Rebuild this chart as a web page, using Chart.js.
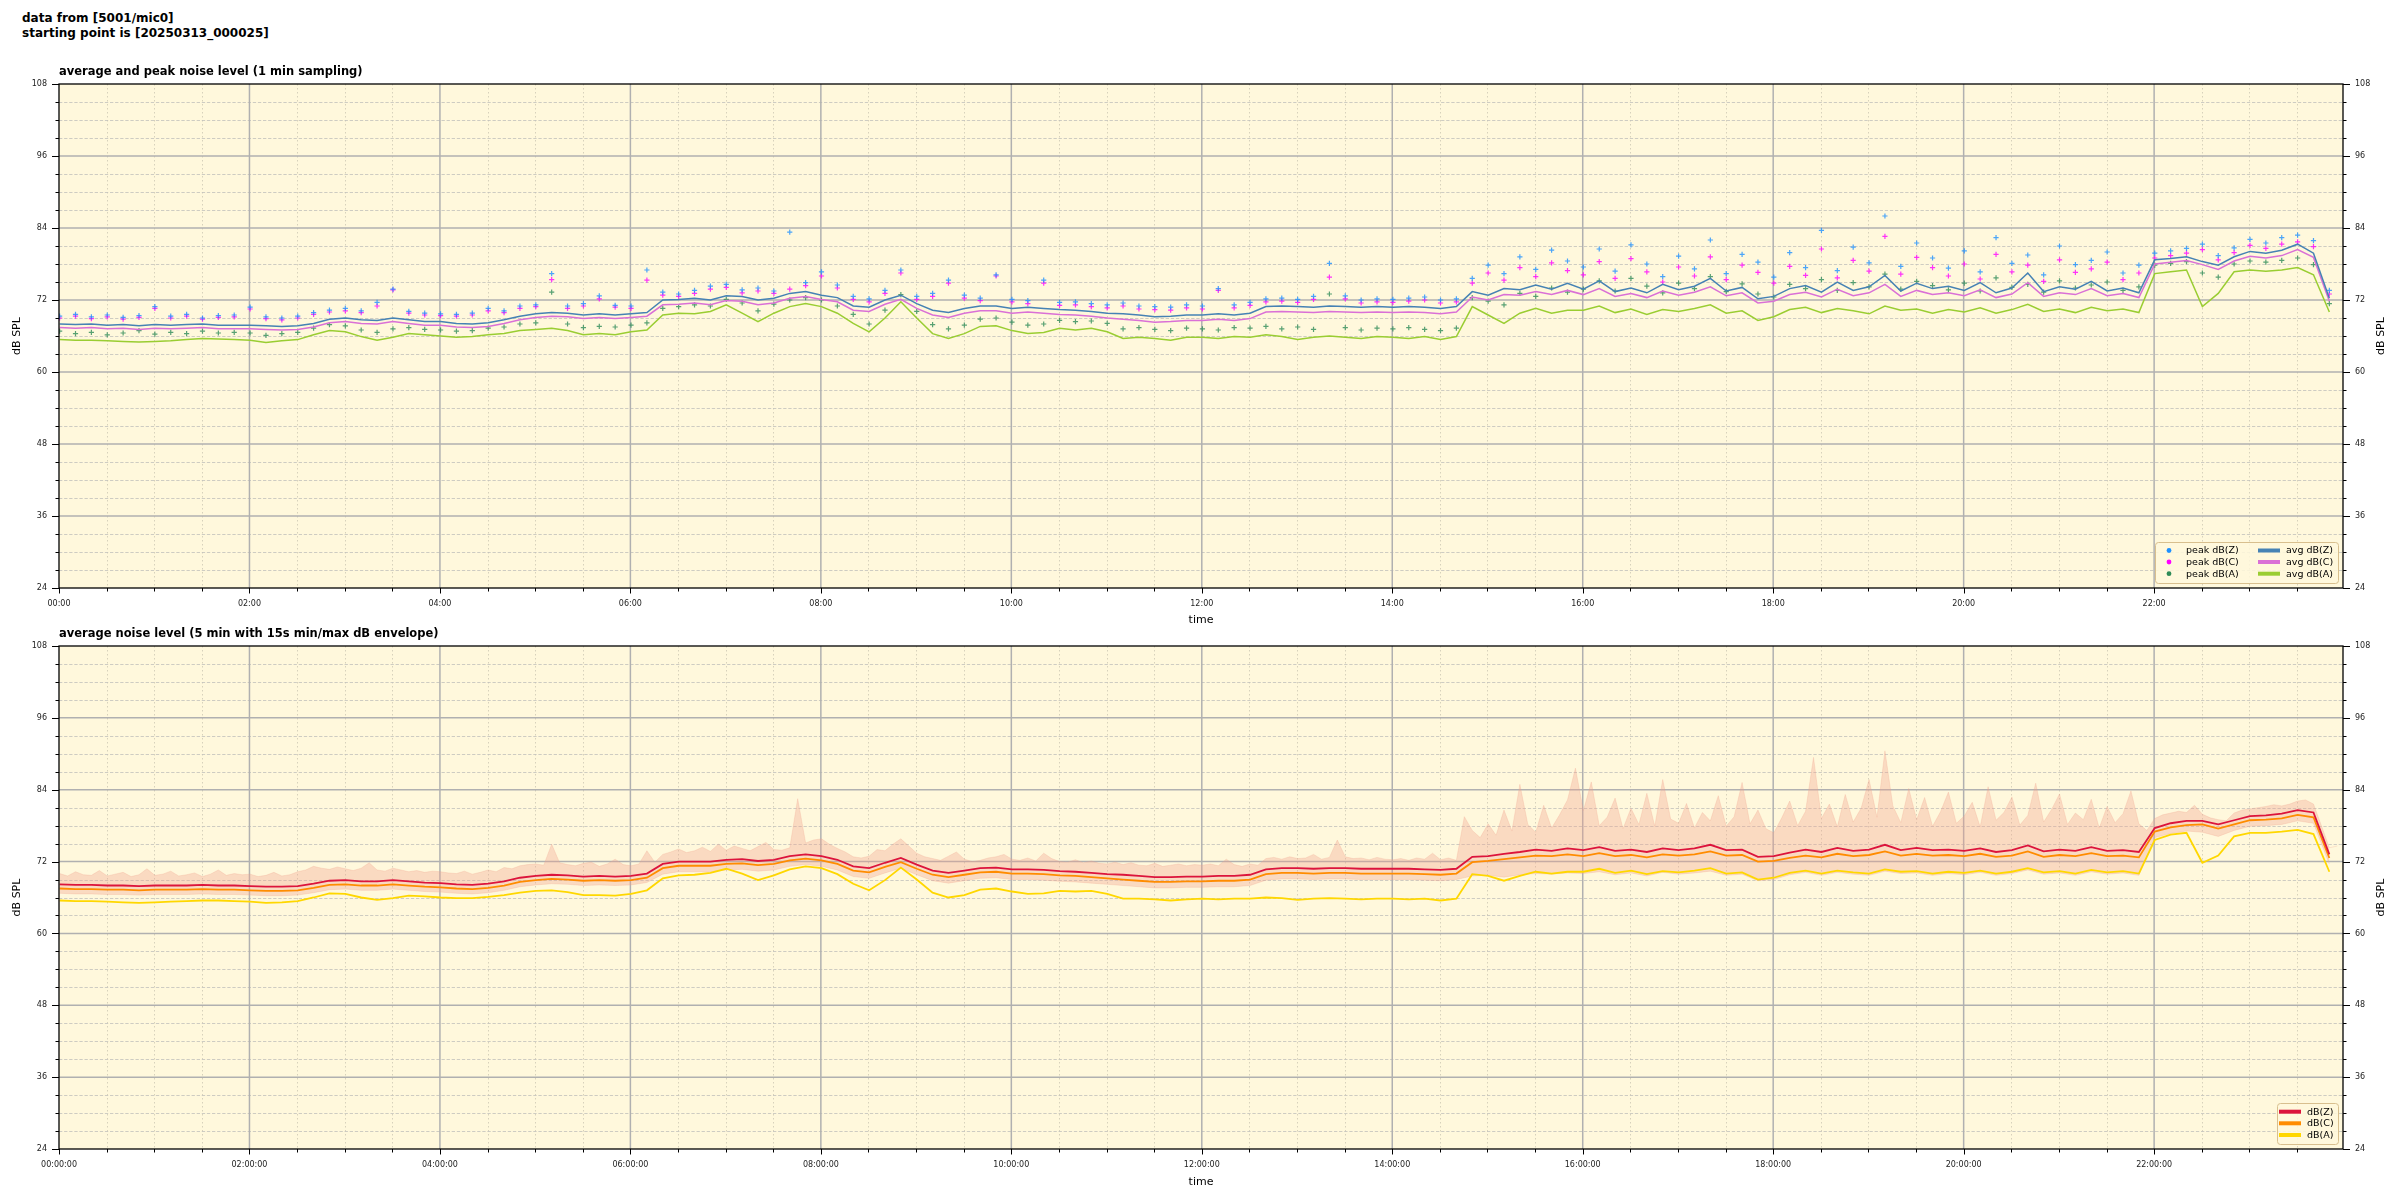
<!DOCTYPE html>
<html>
<head>
<meta charset="utf-8">
<script src="https://cdn.jsdelivr.net/npm/chart.js@4.4.1/dist/chart.umd.min.js"></script>
<style>
  body { margin: 0; width: 2400px; height: 1200px; background: #fff; overflow: hidden; }
  .box { position: absolute; left: 0; width: 2400px; }
  #head { position: absolute; left: 22px; top: 11px; font: bold 12px "DejaVu Sans"; line-height: 14.5px; color: #000; }
</style>
</head>
<body>
<div id="head">data from [5001/mic0]<br>starting point is [20250313_000025]</div>
<div class="box" style="top:0;height:632px"><canvas id="topChart"></canvas></div>
<div class="box" style="top:600px;height:600px"><canvas id="bottomChart"></canvas></div>
<script>
// sample times, minutes after midnight (first sample 00:00:25)
const times = Array.from({ length: 144 }, (_, i) => i * 10 + 0.4);
const times5 = Array.from({ length: 288 }, (_, i) => i * 5 + 0.4);

const xTicks = [0, 120, 240, 360, 480, 600, 720, 840, 960, 1080, 1200, 1320];
const yTicks = [24, 36, 48, 60, 72, 84, 96, 108];

// ---- top panel: 1 min sampling (read every 10 min) ----
const avgZ = [
  68.0, 67.9, 68.0, 67.8, 67.9, 67.7, 67.9, 67.8, 67.9, 68.0, 67.8, 67.8,
  67.8, 67.7, 67.6, 67.7, 68.1, 68.8, 69.0, 68.7, 68.6, 69.0, 68.7, 68.4,
  68.4, 68.1, 68.0, 68.2, 68.7, 69.3, 69.7, 69.9, 69.8, 69.5, 69.7, 69.5,
  69.7, 69.9, 72.0, 72.1, 72.3, 72.0, 72.7, 72.6, 72.0, 72.3, 73.1, 73.4,
  72.8, 72.4, 71.0, 70.8, 72.0, 72.8, 71.4, 70.3, 69.9, 70.6, 71.0, 71.0,
  70.6, 70.8, 70.6, 70.4, 70.3, 70.1, 69.8, 69.7, 69.5, 69.2, 69.3, 69.5,
  69.5, 69.7, 69.5, 69.8, 70.9, 71.0, 70.9, 70.8, 71.0, 70.9, 70.8, 70.9,
  70.8, 70.9, 70.8, 70.6, 70.9, 73.4, 72.8, 73.9, 73.7, 74.5, 73.8, 74.8,
  73.8, 75.2, 73.4, 74.0, 73.2, 74.6, 73.7, 74.3, 75.6, 73.5, 74.1, 72.2,
  72.6, 73.9, 74.4, 73.3, 75.0, 73.6, 74.2, 76.1, 73.5, 74.8, 73.9, 74.3,
  73.6, 74.9, 73.2, 74.0, 76.5, 73.4, 74.2, 73.8, 75.1, 73.5, 74.0, 73.2,
  78.7, 78.9, 79.2, 78.4, 77.8, 79.2, 80.1, 79.8, 80.3, 81.3, 79.8, 72.3
];
const avgC = [
  67.4, 67.3, 67.4, 67.2, 67.3, 67.1, 67.3, 67.2, 67.3, 67.4, 67.2, 67.2,
  67.2, 67.1, 67.0, 67.1, 67.5, 68.2, 68.4, 68.1, 68.0, 68.4, 68.1, 67.8,
  67.8, 67.5, 67.4, 67.6, 68.1, 68.7, 69.1, 69.3, 69.2, 68.9, 69.1, 68.9,
  69.1, 69.3, 71.2, 71.3, 71.5, 71.2, 71.9, 71.8, 71.2, 71.5, 72.3, 72.6,
  72.1, 71.7, 70.3, 70.1, 71.3, 72.1, 70.6, 69.5, 69.1, 69.8, 70.2, 70.2,
  69.8, 70.0, 69.8, 69.6, 69.5, 69.3, 69.0, 68.8, 68.6, 68.3, 68.4, 68.6,
  68.6, 68.8, 68.6, 68.9, 70.0, 70.1, 70.0, 69.9, 70.1, 70.0, 69.9, 70.0,
  69.9, 70.0, 69.9, 69.7, 70.0, 72.5, 72.0, 72.9, 72.8, 73.4, 72.9, 73.6,
  72.9, 73.9, 72.6, 73.1, 72.4, 73.5, 72.8, 73.3, 74.2, 72.7, 73.2, 71.5,
  71.8, 72.9, 73.3, 72.5, 73.8, 72.7, 73.2, 74.6, 72.6, 73.6, 72.9, 73.2,
  72.7, 73.7, 72.4, 73.0, 74.9, 72.6, 73.2, 72.9, 73.9, 72.7, 73.1, 72.4,
  78.0, 78.3, 78.6, 77.9, 77.1, 78.5, 79.3, 79.0, 79.4, 80.4, 79.1, 71.8
];
const avgA = [
  65.4, 65.3, 65.3, 65.2, 65.1, 65.0, 65.1, 65.2, 65.4, 65.6, 65.5, 65.4,
  65.3, 64.9, 65.2, 65.4, 66.2, 66.9, 66.7, 65.9, 65.3, 65.8, 66.4, 66.2,
  66.0, 65.8, 65.9, 66.2, 66.4, 66.9, 67.1, 67.3, 66.9, 66.2, 66.4, 66.2,
  66.7, 67.0, 69.5, 69.8, 69.7, 70.1, 71.2, 69.8, 68.4, 69.8, 70.9, 71.4,
  70.9, 69.8, 68.1, 66.7, 69.0, 71.7, 69.0, 66.4, 65.6, 66.4, 67.6, 67.7,
  66.9, 66.4, 66.6, 67.3, 67.0, 67.3, 66.7, 65.6, 65.8, 65.6, 65.3, 65.8,
  65.8, 65.6, 65.9, 65.8, 66.2, 65.9, 65.4, 65.8, 66.0, 65.8, 65.6, 65.9,
  65.8, 65.6, 65.9, 65.4, 65.9, 70.9, 69.5, 68.1, 69.8, 70.6, 69.8, 70.3,
  70.3, 71.0, 69.9, 70.5, 69.6, 70.4, 70.1, 70.6, 71.2, 69.8, 70.2, 68.6,
  69.2, 70.4, 70.8, 69.9, 70.6, 70.2, 69.7, 71.0, 70.3, 70.5, 69.8, 70.4,
  70.0, 70.7, 69.8, 70.4, 71.3, 70.1, 70.5, 69.9, 70.8, 70.2, 70.5, 69.9,
  76.4, 76.7, 77.0, 70.9, 73.1, 76.7, 77.0, 76.8, 77.0, 77.4, 76.2, 70.0
];
const peakZ = [
  69.3, 69.6, 69.2, 69.5, 69.1, 69.4, 70.9, 69.3, 69.6, 69.0, 69.4, 69.5,
  70.8, 69.2, 69.0, 69.3, 69.9, 70.3, 70.6, 70.2, 71.6, 73.8, 70.1, 69.8,
  69.7, 69.6, 69.8, 70.6, 70.2, 71.0, 71.2, 76.4, 71.0, 71.4, 72.7, 71.1,
  71.0, 77.0, 73.3, 73.0, 73.6, 74.3, 74.6, 73.7, 74.0, 73.5, 83.3, 74.9,
  76.7, 74.5, 72.6, 72.2, 73.6, 77.0, 72.6, 73.1, 75.3, 72.8, 72.3, 76.2,
  72.1, 71.9, 75.3, 71.6, 71.7, 71.4, 71.2, 71.5, 71.0, 70.9, 70.8, 71.2,
  71.0, 73.9, 71.2, 71.6, 72.2, 72.3, 72.1, 72.6, 78.1, 72.7, 72.0, 72.2,
  72.1, 72.3, 72.5, 72.0, 72.2, 75.6, 77.8, 76.4, 79.2, 77.1, 80.3, 78.5,
  77.5, 80.5, 76.8, 81.2, 78.0, 75.9, 79.3, 77.2, 82.0, 76.4, 79.6, 78.3,
  75.8, 79.9, 77.4, 83.6, 76.9, 80.8, 78.2, 86.0, 77.6, 81.5, 79.0, 77.3,
  80.2, 76.7, 82.4, 78.1, 79.5, 76.2, 81.0, 77.9, 78.6, 80.0, 76.5, 77.8,
  79.8, 80.2, 80.6, 81.3, 79.4, 80.7, 82.1, 81.5, 82.4, 82.8, 81.9, 73.6
];
const peakC = [
  69.0, 69.3, 68.9, 69.2, 68.8, 69.1, 70.6, 69.0, 69.3, 68.8, 69.1, 69.2,
  70.5, 68.9, 68.7, 69.0, 69.6, 70.0, 70.2, 69.9, 71.0, 73.7, 69.8, 69.5,
  69.4, 69.3, 69.5, 70.2, 69.9, 70.6, 70.9, 75.4, 70.6, 71.0, 72.2, 70.8,
  70.6, 75.3, 72.8, 72.6, 73.1, 73.8, 74.1, 73.2, 73.5, 73.1, 73.8, 74.4,
  76.0, 74.0, 72.1, 71.7, 73.1, 76.5, 72.1, 72.6, 74.8, 72.3, 71.9, 76.0,
  71.7, 71.4, 74.8, 71.1, 71.2, 70.9, 70.7, 71.0, 70.5, 70.4, 70.3, 70.7,
  70.5, 73.6, 70.7, 71.1, 71.7, 71.8, 71.6, 72.1, 75.8, 72.2, 71.5, 71.7,
  71.6, 71.8, 72.0, 71.5, 71.7, 74.8, 76.5, 75.3, 77.4, 75.9, 78.2, 76.9,
  76.2, 78.4, 75.6, 78.9, 76.7, 75.0, 77.5, 76.0, 79.2, 75.4, 77.8, 76.6,
  74.8, 77.6, 76.1, 80.5, 75.7, 78.6, 76.8, 82.6, 76.3, 79.1, 77.4, 76.0,
  78.0, 75.5, 79.6, 76.7, 77.8, 75.1, 78.7, 76.6, 77.2, 78.3, 75.4, 76.5,
  79.0, 79.4, 79.8, 80.4, 78.7, 79.9, 81.1, 80.6, 81.3, 81.7, 80.9, 73.0
];
const peakA = [
  66.8, 66.4, 66.6, 66.2, 66.5, 66.9, 66.3, 66.6, 66.4, 66.8, 66.5, 66.6,
  66.5, 66.1, 66.4, 66.6, 67.3, 67.9, 67.7, 67.0, 66.6, 67.2, 67.4, 67.1,
  67.0, 66.8, 66.9, 67.3, 67.5, 68.0, 68.2, 73.3, 68.0, 67.4, 67.6, 67.5,
  67.8, 68.2, 70.6, 70.9, 71.2, 71.0, 72.1, 71.5, 70.2, 71.3, 72.0, 72.4,
  72.0, 71.0, 69.6, 68.0, 70.3, 72.9, 70.1, 67.9, 67.2, 67.8, 68.8, 69.0,
  68.3, 67.8, 68.0, 68.6, 68.4, 68.5, 68.1, 67.2, 67.4, 67.1, 66.9, 67.3,
  67.2, 67.0, 67.4, 67.3, 67.6, 67.2, 67.5, 67.1, 73.0, 67.4, 67.0, 67.3,
  67.2, 67.4, 67.1, 66.9, 67.3, 72.4, 71.8, 71.2, 73.1, 72.6, 74.0, 73.3,
  73.8, 75.2, 73.5, 75.6, 74.3, 73.2, 74.8, 73.9, 75.9, 73.4, 74.7, 73.0,
  72.5, 74.6, 73.9, 75.4, 73.6, 74.9, 74.2, 76.3, 73.8, 75.1, 74.4, 73.7,
  74.8, 73.5, 75.7, 74.1, 74.6, 73.3, 75.2, 74.0, 74.5, 75.0, 73.6, 74.2,
  77.8, 78.1, 78.4, 76.5, 75.8, 78.0, 78.5, 78.3, 78.6, 79.0, 77.9, 71.4
];

// ---- bottom panel: 5 min average (read every 10 min) ----
const dbZ = [
  68.2, 68.1, 68.1, 68.0, 68.0, 67.9, 68.0, 68.0, 68.0, 68.1, 68.0, 68.0,
  67.9, 67.8, 67.8, 67.9, 68.3, 68.8, 68.9, 68.7, 68.7, 68.9, 68.7, 68.5,
  68.4, 68.2, 68.1, 68.3, 68.7, 69.3, 69.6, 69.8, 69.7, 69.5, 69.6, 69.5,
  69.6, 70.0, 71.6, 72.0, 72.0, 72.0, 72.3, 72.4, 72.1, 72.3, 72.9, 73.2,
  72.9, 72.3, 71.2, 70.9, 71.8, 72.6, 71.5, 70.5, 70.1, 70.5, 70.9, 71.0,
  70.7, 70.7, 70.6, 70.4, 70.3, 70.1, 69.9, 69.8, 69.6, 69.4, 69.4, 69.5,
  69.5, 69.6, 69.6, 69.8, 70.7, 70.9, 70.9, 70.8, 70.9, 70.9, 70.8, 70.8,
  70.8, 70.8, 70.7, 70.6, 70.8, 72.8, 72.9, 73.3, 73.6, 74.0, 73.8, 74.2,
  73.9, 74.4, 73.8, 74.0, 73.6, 74.2, 73.9, 74.2, 74.8, 73.9, 74.0, 72.8,
  72.9, 73.5, 74.0, 73.6, 74.3, 73.8, 74.0, 74.8, 73.9, 74.3, 73.9, 74.0,
  73.8, 74.2, 73.6, 73.9, 74.7, 73.7, 74.0, 73.8, 74.4, 73.8, 73.9, 73.6,
  77.6, 78.4, 78.8, 78.8, 78.2, 78.9, 79.6, 79.7, 80.0, 80.6, 80.2, 73.2
];
const dbC = [
  67.5, 67.4, 67.4, 67.3, 67.3, 67.2, 67.3, 67.3, 67.3, 67.4, 67.3, 67.3,
  67.2, 67.1, 67.1, 67.2, 67.6, 68.1, 68.2, 68.0, 68.0, 68.2, 68.0, 67.8,
  67.7, 67.5, 67.4, 67.6, 68.0, 68.6, 68.9, 69.1, 69.0, 68.8, 68.9, 68.8,
  68.9, 69.3, 70.9, 71.3, 71.3, 71.3, 71.6, 71.7, 71.4, 71.6, 72.2, 72.5,
  72.2, 71.6, 70.5, 70.2, 71.1, 71.9, 70.8, 69.8, 69.4, 69.8, 70.2, 70.3,
  70.0, 70.0, 69.9, 69.7, 69.6, 69.4, 69.2, 69.0, 68.8, 68.6, 68.6, 68.7,
  68.7, 68.8, 68.8, 69.0, 69.9, 70.1, 70.1, 70.0, 70.1, 70.1, 70.0, 70.0,
  70.0, 70.0, 69.9, 69.8, 70.0, 71.9, 72.1, 72.4, 72.7, 73.0, 72.9, 73.2,
  72.9, 73.4, 72.9, 73.1, 72.7, 73.2, 73.0, 73.2, 73.7, 73.0, 73.1, 72.0,
  72.1, 72.6, 73.0, 72.7, 73.3, 72.9, 73.1, 73.7, 73.0, 73.3, 73.0, 73.1,
  72.9, 73.3, 72.8, 73.0, 73.7, 72.8, 73.1, 72.9, 73.4, 72.9, 73.0, 72.7,
  77.0, 77.7, 78.1, 78.2, 77.5, 78.2, 78.9, 79.0, 79.2, 79.8, 79.4, 72.6
];
const dbA = [
  65.5, 65.4, 65.4, 65.3, 65.2, 65.1, 65.2, 65.3, 65.4, 65.5, 65.5, 65.4,
  65.3, 65.1, 65.2, 65.4, 66.0, 66.7, 66.6, 66.0, 65.6, 65.9, 66.3, 66.2,
  66.0, 65.9, 65.9, 66.1, 66.4, 66.8, 67.1, 67.2, 66.9, 66.4, 66.4, 66.3,
  66.6, 67.2, 69.2, 69.7, 69.8, 70.1, 70.8, 70.0, 68.9, 69.7, 70.7, 71.2,
  70.9, 69.9, 68.3, 67.2, 68.9, 71.0, 69.0, 66.8, 66.0, 66.4, 67.3, 67.5,
  67.0, 66.6, 66.7, 67.1, 67.0, 67.1, 66.6, 65.8, 65.8, 65.7, 65.5, 65.7,
  65.8, 65.7, 65.8, 65.8, 66.0, 65.9, 65.6, 65.8, 65.9, 65.8, 65.7, 65.8,
  65.8, 65.7, 65.8, 65.5, 65.8, 69.9, 69.6, 68.8, 69.6, 70.3, 70.0, 70.3,
  70.3, 70.8, 70.1, 70.5, 69.9, 70.4, 70.2, 70.5, 70.9, 70.0, 70.2, 69.0,
  69.3, 70.1, 70.5, 70.0, 70.5, 70.2, 70.0, 70.7, 70.3, 70.4, 70.0, 70.3,
  70.1, 70.5, 70.0, 70.3, 70.9, 70.2, 70.4, 70.0, 70.6, 70.2, 70.4, 70.0,
  75.6, 76.5, 76.8, 71.8, 73.0, 76.2, 76.8, 76.8, 77.0, 77.3, 76.6, 70.3
];
// 15 s min/max envelope: max read every 5 min, min every 10 min
const envHigh = [
  70.0, 69.6, 70.3, 69.8, 69.7, 70.5, 69.6, 69.9, 70.2, 69.5, 69.8, 70.8,
  69.7, 69.9, 70.4, 69.6, 69.8, 70.1, 69.5, 69.9, 70.6, 69.7, 70.0, 69.8,
  69.9, 69.5, 69.7, 70.2, 69.6, 69.8, 70.3, 70.6, 71.2, 70.9, 70.7, 71.1,
  70.8, 70.5, 70.9, 71.8, 70.6, 70.4, 70.9, 70.6, 70.3, 70.5, 70.2, 70.4,
  70.3, 70.1, 70.0, 70.4, 69.9, 70.2, 70.6, 70.3, 71.0, 70.8, 71.3, 71.5,
  71.6, 71.4, 74.9, 71.8, 71.5, 71.3, 71.7, 71.9, 71.2, 71.6, 72.4, 71.5,
  71.3, 71.6, 73.8, 71.9, 73.2, 73.6, 74.1, 73.5, 73.8, 74.4, 73.7, 74.9,
  73.9, 74.6, 74.2, 73.8, 74.5, 75.2, 74.0, 73.9, 74.3, 82.5, 75.1, 75.6,
  75.8, 74.9, 74.2, 73.6, 72.8, 72.6, 72.9, 74.0, 73.8, 74.9, 75.8, 74.6,
  73.4, 72.8, 72.5, 72.2, 72.9, 73.6, 72.4, 72.0, 72.2, 72.6, 72.8, 73.2,
  72.4, 72.2, 72.6, 72.1, 73.4, 72.5, 72.0, 71.9, 72.3, 71.8, 72.1, 71.7,
  71.6, 71.9, 71.5, 71.8, 71.4, 71.3, 71.7, 71.2, 71.4, 71.6, 71.3, 71.5,
  71.4, 71.6, 71.3, 72.4, 71.5, 71.2, 71.6, 71.4, 72.5, 72.7, 72.4, 72.8,
  72.5, 72.6, 73.2, 72.4, 72.7, 75.6, 72.8, 72.5, 72.6, 72.3, 72.7, 72.4,
  72.3, 72.5, 72.2, 72.6, 72.4, 73.4, 72.3, 72.6, 72.2, 79.5, 77.2, 76.0,
  78.3, 76.4, 80.6, 77.1, 84.9, 78.2, 76.9, 81.4, 77.6, 79.8, 82.3, 87.6,
  80.5, 85.3, 78.0, 79.4, 82.6, 77.5, 80.9, 78.2, 83.4, 77.9, 85.7, 79.1,
  78.4, 81.7, 77.6, 80.2, 78.8, 83.0, 77.9, 79.5, 85.2, 78.3, 80.6, 77.5,
  76.8, 79.3, 82.1, 78.0, 80.4, 89.4, 79.2, 81.6, 77.8, 83.2, 78.6, 80.9,
  85.7, 79.4, 90.5, 81.3, 78.5, 84.2, 79.0, 82.7, 77.9, 80.3, 83.6, 78.4,
  79.6, 81.9, 77.8, 84.5, 78.9, 80.2, 82.8, 78.1, 79.7, 85.1, 78.6, 80.7,
  83.3, 78.2, 80.1, 79.0, 82.4, 77.6, 81.2, 78.5, 80.0, 83.8, 78.3, 77.2,
  79.2, 79.8, 80.1, 80.4, 80.2, 81.4, 79.9, 79.3, 79.0, 78.8, 80.1, 80.6,
  80.8, 81.0, 81.2, 81.5, 81.3, 81.6, 82.1, 82.3, 81.6, 78.0, 74.3, 74.6
];
const envLow = [
  66.7, 66.6, 66.6, 66.5, 66.5, 66.4, 66.5, 66.5, 66.5, 66.6, 66.5, 66.5,
  66.4, 66.3, 66.3, 66.4, 66.8, 67.3, 67.4, 67.2, 67.2, 67.4, 67.2, 67.0,
  66.9, 66.7, 66.6, 66.8, 67.2, 67.8, 68.1, 68.3, 68.2, 68.0, 68.1, 68.0,
  68.1, 68.5, 69.9, 70.3, 70.3, 70.3, 70.6, 70.7, 70.4, 70.6, 71.2, 71.5,
  71.2, 70.6, 69.5, 69.2, 70.1, 70.9, 69.8, 68.8, 68.4, 68.8, 69.2, 69.3,
  69.0, 69.0, 68.9, 68.7, 68.6, 68.4, 68.2, 68.0, 67.8, 67.6, 67.6, 67.7,
  67.7, 67.8, 67.8, 68.0, 68.9, 69.1, 69.1, 69.0, 69.1, 69.1, 69.0, 69.0,
  69.0, 69.0, 68.9, 68.8, 69.0, 69.6, 69.7, 69.4, 69.8, 70.0, 69.9, 70.1,
  70.0, 70.3, 69.8, 70.1, 69.6, 70.2, 69.9, 70.1, 70.4, 69.7, 69.9, 68.8,
  69.0, 69.8, 70.2, 69.7, 70.2, 69.9, 69.7, 70.4, 70.0, 70.1, 69.7, 70.0,
  69.8, 70.2, 69.7, 70.0, 70.6, 69.9, 70.1, 69.7, 70.3, 69.9, 70.1, 69.7,
  76.0, 76.7, 77.1, 76.9, 76.2, 77.2, 77.9, 78.0, 78.2, 78.8, 78.4, 71.6
];

const pts = (xs, vals) => vals.map((v, i) => ({ x: xs[i], y: v }));
const hhmm = (m) => String(Math.floor(m / 60)).padStart(2, '0') + ':' + String(m % 60).padStart(2, '0');

function strokeLine(ctx, x1, y1, x2, y2) {
  ctx.beginPath();
  ctx.moveTo(x1, y1);
  ctx.lineTo(x2, y2);
  ctx.stroke();
}

// draws the matplotlib-like frame, grid, minor ticks, titles and legend
function panelPlugin(cfg) {
  return {
    id: 'panel',
    beforeDraw(chart) {
      const { ctx, chartArea: a } = chart;
      ctx.save();
      ctx.fillStyle = '#fff8dc';
      ctx.fillRect(a.left, a.top, a.width, a.height);
      ctx.restore();
    },
    beforeDatasetsDraw(chart) {
      const { ctx, chartArea: a, scales: { x, y } } = chart;
      ctx.save();
      ctx.lineWidth = 0.8;
      ctx.strokeStyle = '#cdc6b2';
      ctx.setLineDash([1.5, 2.5]);
      for (let t = 30; t < 1440; t += 30) {
        if (t % 120 === 0) continue;
        const px = Math.round(x.getPixelForValue(t)) + 0.5;
        strokeLine(ctx, px, a.top, px, a.bottom);
      }
      ctx.strokeStyle = '#c2c0bb';
      ctx.setLineDash([3.3, 1.8]);
      for (let v = 27; v < 108; v += 3) {
        if ((v - 24) % 12 === 0) continue;
        const py = Math.round(y.getPixelForValue(v)) + 0.5;
        strokeLine(ctx, a.left, py, a.right, py);
      }
      ctx.setLineDash([]);
      ctx.strokeStyle = '#b0b0b0';
      ctx.lineWidth = 1.5;
      xTicks.forEach(t => {
        if (t === 0) return;
        const px = x.getPixelForValue(t);
        strokeLine(ctx, px, a.top, px, a.bottom);
      });
      yTicks.forEach(v => {
        if (v === 24 || v === 108) return;
        const py = y.getPixelForValue(v);
        strokeLine(ctx, a.left, py, a.right, py);
      });
      ctx.restore();
    },
    afterDraw(chart) {
      const { ctx, chartArea: a, scales: { x, y } } = chart;
      ctx.save();
      // tick marks
      ctx.strokeStyle = '#000';
      ctx.lineWidth = 1;
      for (let v = 24; v <= 108; v += 3) {
        const len = (v - 24) % 12 === 0 ? 7 : 3.5;
        const py = Math.round(y.getPixelForValue(v)) + 0.5;
        strokeLine(ctx, a.left - len, py, a.left, py);
        strokeLine(ctx, a.right, py, a.right + len, py);
      }
      for (let t = 0; t < 1440; t += 30) {
        const len = t % 120 === 0 ? 5.5 : 3.5;
        const px = Math.round(x.getPixelForValue(t)) + 0.5;
        strokeLine(ctx, px, a.bottom, px, a.bottom + len);
      }
      // frame
      ctx.lineWidth = 1.3;
      ctx.strokeRect(a.left, a.top, a.width, a.height);

      // titles
      ctx.fillStyle = '#000';
      ctx.font = 'bold 11.5px "DejaVu Sans"';
      ctx.textAlign = 'left';
      ctx.textBaseline = 'alphabetic';
      ctx.fillText(cfg.title, a.left, a.top - 9);
      ctx.font = '11px "DejaVu Sans"';
      ctx.textAlign = 'center';
      ctx.textBaseline = 'middle';
      ctx.fillText('time', (a.left + a.right) / 2, a.bottom + cfg.timeOffset);
      const midY = (a.top + a.bottom) / 2;
      [17.5, 2381].forEach(cx => {
        ctx.save();
        ctx.translate(cx, midY);
        ctx.rotate(-Math.PI / 2);
        ctx.fillText('dB SPL', 0, 0);
        ctx.restore();
      });

      // legend
      const L = cfg.legend;
      const bx = a.right - 5 - L.w, by = a.bottom - 5 - L.h;
      ctx.fillStyle = 'rgba(255,248,220,0.85)';
      ctx.strokeStyle = '#d8bf8e';
      ctx.lineWidth = 1;
      ctx.beginPath();
      ctx.roundRect(bx + 0.5, by + 0.5, L.w, L.h, 3);
      ctx.fill();
      ctx.stroke();
      ctx.font = '9.5px "DejaVu Sans"';
      ctx.textAlign = 'left';
      ctx.textBaseline = 'middle';
      L.items.forEach(it => {
        const ix = bx + it.col, iy = by + it.row;
        if (it.kind === 'dot') {
          ctx.fillStyle = it.color;
          ctx.beginPath();
          ctx.arc(ix + 14, iy, 2.4, 0, Math.PI * 2);
          ctx.fill();
        } else {
          ctx.strokeStyle = it.color;
          ctx.lineWidth = 4;
          strokeLine(ctx, ix + 3, iy, ix + 25, iy);
        }
        ctx.fillStyle = '#000';
        ctx.fillText(it.label, ix + 31, iy + 0.5);
      });
      ctx.restore();
    }
  };
}

function scalesFor(xHeight, xLabel) {
  const yBase = {
    type: 'linear', min: 24, max: 108,
    grid: { display: false, drawTicks: false },
    border: { display: false },
    afterBuildTicks: (s) => { s.ticks = yTicks.map(v => ({ value: v })); },
    ticks: { autoSkip: false, padding: 12, color: '#222', font: { family: 'DejaVu Sans', size: 8 } }
  };
  return {
    x: {
      type: 'linear', min: 0, max: 1439,
      grid: { display: false, drawTicks: false },
      border: { display: false },
      afterBuildTicks: (s) => { s.ticks = xTicks.map(v => ({ value: v })); },
      afterFit: (s) => { s.height = xHeight; },
      ticks: { autoSkip: false, maxRotation: 0, padding: 11, color: '#222',
        font: { family: 'DejaVu Sans', size: 8 }, callback: xLabel }
    },
    y: Object.assign({}, yBase, { position: 'left', afterFit: (s) => { s.width = 59; } }),
    y2: Object.assign({}, yBase, { position: 'right', afterFit: (s) => { s.width = 57; } })
  };
}

const lineSet = (label, vals, color, width, order) => ({
  label, data: pts(times, vals), borderColor: color, borderWidth: width,
  pointRadius: 0, tension: 0, fill: false, order, yAxisID: 'y'
});
const peakSet = (label, vals, color, order) => ({
  label, data: pts(times, vals), showLine: false, pointStyle: 'cross',
  pointRadius: 2.6, borderWidth: 1.2, borderColor: color, order, yAxisID: 'y'
});

new Chart(document.getElementById('topChart'), {
  type: 'line',
  data: {
    datasets: [
      lineSet('avg dB(Z)', avgZ, '#4682b4', 1.5, 1),
      lineSet('avg dB(C)', avgC, '#da70d6', 1.5, 2),
      lineSet('avg dB(A)', avgA, '#9acd32', 1.5, 3),
      peakSet('peak dB(Z)', peakZ, 'rgba(30,144,255,0.8)', 4),
      peakSet('peak dB(C)', peakC, 'rgba(255,0,255,0.8)', 5),
      peakSet('peak dB(A)', peakA, 'rgba(46,139,87,0.8)', 6)
    ]
  },
  options: {
    responsive: true, maintainAspectRatio: false, animation: false, events: [],
    parsing: false, normalized: true,
    layout: { padding: { top: 84, left: 0, right: 0, bottom: 0 } },
    plugins: { legend: { display: false }, tooltip: { enabled: false } },
    scales: scalesFor(44, (v) => hhmm(v))
  },
  plugins: [panelPlugin({
    title: 'average and peak noise level (1 min sampling)', timeOffset: 32,
    legend: { w: 183, h: 41, items: [
      { kind: 'dot', label: 'peak dB(Z)', color: '#1e90ff', col: 0, row: 8.5 },
      { kind: 'dot', label: 'peak dB(C)', color: '#ff00ff', col: 0, row: 20 },
      { kind: 'dot', label: 'peak dB(A)', color: '#2e8b57', col: 0, row: 31.7 },
      { kind: 'line', label: 'avg dB(Z)', color: '#4682b4', col: 100, row: 8.5 },
      { kind: 'line', label: 'avg dB(C)', color: '#da70d6', col: 100, row: 20 },
      { kind: 'line', label: 'avg dB(A)', color: '#9acd32', col: 100, row: 31.7 }
    ] }
  })]
});

const envColor = 'rgba(240,160,140,0.34)';
new Chart(document.getElementById('bottomChart'), {
  type: 'line',
  data: {
    datasets: [
      lineSet('dB(Z)', dbZ, '#dc143c', 1.8, 1),
      lineSet('dB(C)', dbC, '#ff8c00', 1.8, 2),
      lineSet('dB(A)', dbA, '#ffd700', 1.8, 3),
      { label: 'max', data: pts(times5, envHigh), borderColor: 'rgba(240,160,140,0.25)', borderWidth: 1,
        backgroundColor: envColor, pointRadius: 0, tension: 0, fill: '+1', order: 4, yAxisID: 'y' },
      { label: 'min', data: pts(times, envLow), borderColor: 'rgba(240,160,140,0.25)', borderWidth: 1,
        pointRadius: 0, tension: 0, fill: false, order: 5, yAxisID: 'y' }
    ]
  },
  options: {
    responsive: true, maintainAspectRatio: false, animation: false, events: [],
    parsing: false, normalized: true,
    layout: { padding: { top: 46, left: 0, right: 0, bottom: 0 } },
    plugins: { legend: { display: false }, tooltip: { enabled: false } },
    scales: scalesFor(51, (v) => hhmm(v) + ':00')
  },
  plugins: [panelPlugin({
    title: 'average noise level (5 min with 15s min/max dB envelope)', timeOffset: 33,
    legend: { w: 61, h: 41, items: [
      { kind: 'line', label: 'dB(Z)', color: '#dc143c', col: -1, row: 8.7 },
      { kind: 'line', label: 'dB(C)', color: '#ff8c00', col: -1, row: 20.3 },
      { kind: 'line', label: 'dB(A)', color: '#ffd700', col: -1, row: 32 }
    ] }
  })]
});
</script>
</body>
</html>
